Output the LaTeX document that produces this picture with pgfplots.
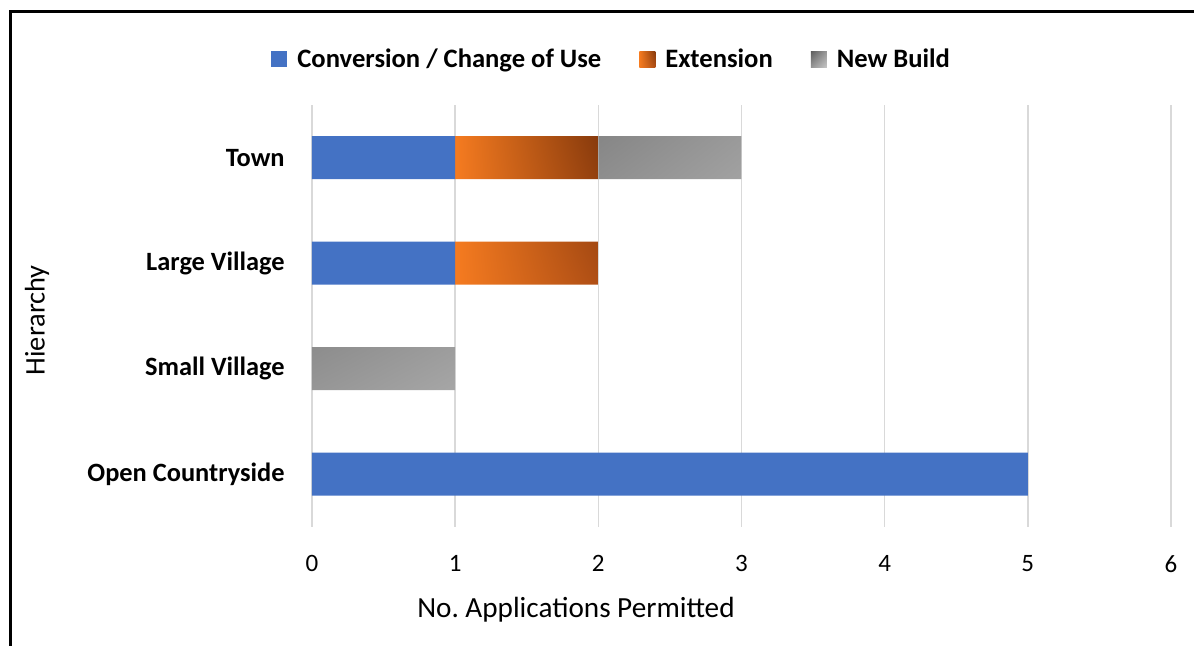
\documentclass[border=0pt]{standalone}
\usepackage{fontspec}
\setmainfont{Carlito}
\usepackage{pgfplots}
\pgfplotsset{compat=1.18}
\usetikzlibrary{shadings}
\frenchspacing
\definecolor{cblue}{HTML}{4472C4}
\definecolor{oL}{HTML}{F57B20}
\definecolor{oTR}{HTML}{873A0C}
\definecolor{oBR}{HTML}{B04F15}
\definecolor{gTL}{HTML}{5E5E5E}
\definecolor{gTR}{HTML}{9A9A9A}
\definecolor{gBL}{HTML}{969696}
\definecolor{gBR}{HTML}{C6C6C6}
\definecolor{gridc}{HTML}{D9D9D9}
\begin{document}
\begin{tikzpicture}
\useasboundingbox (0,0) rectangle (597pt,323pt);
\draw[line width=1.5pt] (5pt,-5pt) -- (5pt,317pt) -- (605pt,317pt);
\begin{axis}[
  at={(156pt,59.5pt)}, anchor=south west,
  scale only axis, width=429.5pt, height=211pt,
  xbar stacked, bar width=21.5pt,
  xmin=0, xmax=6, ymin=-0.5, ymax=3.5,
  xtick={0,1,2,3,4,5,6},
  ytick={0,1,2,3},
  yticklabels={Open Countryside, Small Village, Large Village, Town},
  xmajorgrids, grid style={draw=gridc, line width=0.75pt},
  axis line style={draw=none}, major tick length=0pt,
  /pgf/number format/assume math mode=true,
  xticklabel style={font=\fontsize{12.5}{14}\selectfont, inner sep=0pt, yshift=-14pt},
  yticklabel style={font=\fontsize{13.2}{15}\selectfont\bfseries, inner sep=0pt, xshift=-13.5pt},
  xlabel={No. Applications Permitted},
  ylabel={Hierarchy},
  xlabel style={font=\fontsize{14.6}{16}\selectfont, at={(axis description cs:0.3073,-0.197)}, anchor=center},
  ylabel style={font=\fontsize{14.2}{16}\selectfont, at={(axis description cs:-0.320,0.49)}, anchor=center, rotate=0},
  legend columns=3,
  legend style={at={(axis description cs:0.350,1.108)}, anchor=center, draw=none,
    font=\fontsize{13.3}{15}\selectfont\bfseries,
    /tikz/every odd column/.append style={column sep=3pt},
    /tikz/every even column/.append style={column sep=17pt}},
  legend image code/.code={\path[#1,draw=none] (0pt,-4pt) rectangle (8pt,4pt);},
]
\addplot[fill=cblue, draw=none] coordinates {(5,0) (0,1) (1,2) (1,3)};
\addplot[draw=none, upper left=oL, lower left=oL, upper right=oTR, lower right=oBR] coordinates {(0,0) (0,1) (1,2) (1,3)};
\addplot[draw=none, upper left=gTL, upper right=gTR, lower left=gBL, lower right=gBR] coordinates {(0,0) (1,1) (0,2) (1,3)};
\legend{Conversion / Change of Use, Extension, New Build}
\end{axis}
\end{tikzpicture}
\end{document}
